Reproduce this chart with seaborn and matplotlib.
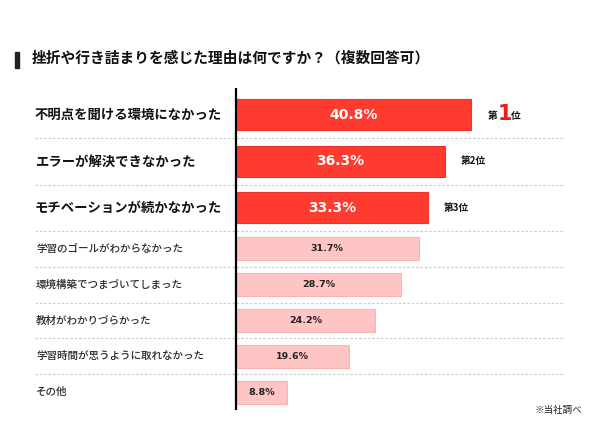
import matplotlib
matplotlib.use('Agg')
import matplotlib.pyplot as plt
import seaborn as sns

sns.set_style('white')
plt.rcParams['font.family'] = ['Noto Sans CJK JP', 'DejaVu Sans']

title = '挫折や行き詰まりを感じた理由は何ですか？（複数回答可）'
top_labels = ['不明点を聞ける環境になかった', 'エラーが解決できなかった', 'モチベーションが続かなかった']
top_values = [40.8, 36.3, 33.3]
ranks = ['1', '2', '3']
low_labels = ['学習のゴールがわからなかった', '環境構築でつまづいてしまった', '教材がわかりづらかった',
              '学習時間が思うように取れなかった', 'その他']
low_values = [31.7, 28.7, 24.2, 19.6, 8.8]
note = '※当社調べ'

RED = '#ff3b30'
RED_EDGE = '#e8342c'
PINK = '#ffc4c4'
PINK_EDGE = '#ffb2b2'

W, H = 600, 429
fig = plt.figure(figsize=(W / 100, H / 100), dpi=100)
fig.patch.set_facecolor('white')

# layout in pixels
x0, x1, xz = 35, 563, 236
ppu = (471 - 236) / 40.8
xlim = (-(xz - x0) / ppu, (x1 - xz) / ppu)

ax_top = fig.add_axes([x0 / W, 1 - 231 / H, (x1 - x0) / W, (231 - 88) / H])
ax_low = fig.add_axes([x0 / W, 1 - 410 / H, (x1 - x0) / W, (410 - 231) / H])

sns.barplot(x=top_values, y=top_labels, orient='h', ax=ax_top, color=RED,
            edgecolor=RED_EDGE, linewidth=0.8, width=0.67, saturation=1)
sns.barplot(x=low_values, y=low_labels, orient='h', ax=ax_low, color=PINK,
            edgecolor=PINK_EDGE, linewidth=0.8, width=0.64, saturation=1)

for ax, n in [(ax_top, 3), (ax_low, 5)]:
    ax.set_xlim(*xlim)
    ax.set_ylim(n - 0.5, -0.5)
    ax.set_xlabel('')
    ax.set_ylabel('')
    ax.set_xticks([])
    ax.set_yticks([])
    for s in ax.spines.values():
        s.set_visible(False)
    ax.set_facecolor('none')
    ax.axvline(0, color='black', lw=1.6, zorder=5)
    seps = [i + 0.5 for i in range(n)] if ax is ax_top else [i + 0.5 for i in range(n - 1)]
    for y in seps:
        ax.axhline(y, color='#cfcfcf', lw=0.9, ls=(0, (2, 1.5)), zorder=0, clip_on=False)

ax_top.set_ylim(2.5, -0.58)

# category labels
for i, lab in enumerate(top_labels):
    ax_top.text(0.0, i, lab, transform=ax_top.get_yaxis_transform(), ha='left', va='center',
                fontsize=9.6, fontweight='bold', color='#111111')
for i, lab in enumerate(low_labels):
    ax_low.text(0.002, i, lab, transform=ax_low.get_yaxis_transform(), ha='left', va='center',
                fontsize=7.6, fontweight='medium', color='#2a2a2a')

# values inside bars
for i, v in enumerate(top_values):
    ax_top.text(v / 2, i, f'{v}%', ha='center', va='center', fontsize=10,
                fontweight='bold', color='white', family=['DejaVu Sans'])
for i, v in enumerate(low_values):
    ax_low.text(v / 2, i, f'{v}%', ha='center', va='center', fontsize=6.8,
                fontweight='bold', color='#222222', family=['DejaVu Sans'])

# rank labels
for i, (v, r) in enumerate(zip(top_values, ranks)):
    if r == '1':
        ax_top.annotate('第', (v, i), xytext=(12, -1), textcoords='offset points',
                        ha='left', va='center', fontsize=7, color='#111111', fontweight='bold')
        ax_top.annotate(r, (v, i), xytext=(19.5, 0.5), textcoords='offset points',
                        ha='left', va='center', fontsize=15, color='#ee1c1c', fontweight='bold',
                        family=['DejaVu Sans'])
        ax_top.annotate('位', (v, i), xytext=(29, -1), textcoords='offset points',
                        ha='left', va='center', fontsize=7, color='#111111', fontweight='bold')
    else:
        ax_top.annotate(f'第{r}位', (v, i), xytext=(11.5, 0), textcoords='offset points',
                        ha='left', va='center', fontsize=7, color='#111111', fontweight='bold')

# title with marker bar
fig.patches.append(plt.Rectangle((15 / W, 1 - 68 / H), 4 / W, 16 / H, transform=fig.transFigure,
                                 color='#222222'))
fig.text(32 / W, 1 - 58 / H, title, ha='left', va='center', fontsize=10.6,
         fontweight='bold', color='#111111')

fig.text(582 / W, 1 - 410 / H, note, ha='right', va='center', fontsize=6.8, color='#222222')

fig.savefig('out.png', dpi=100, facecolor='white')
